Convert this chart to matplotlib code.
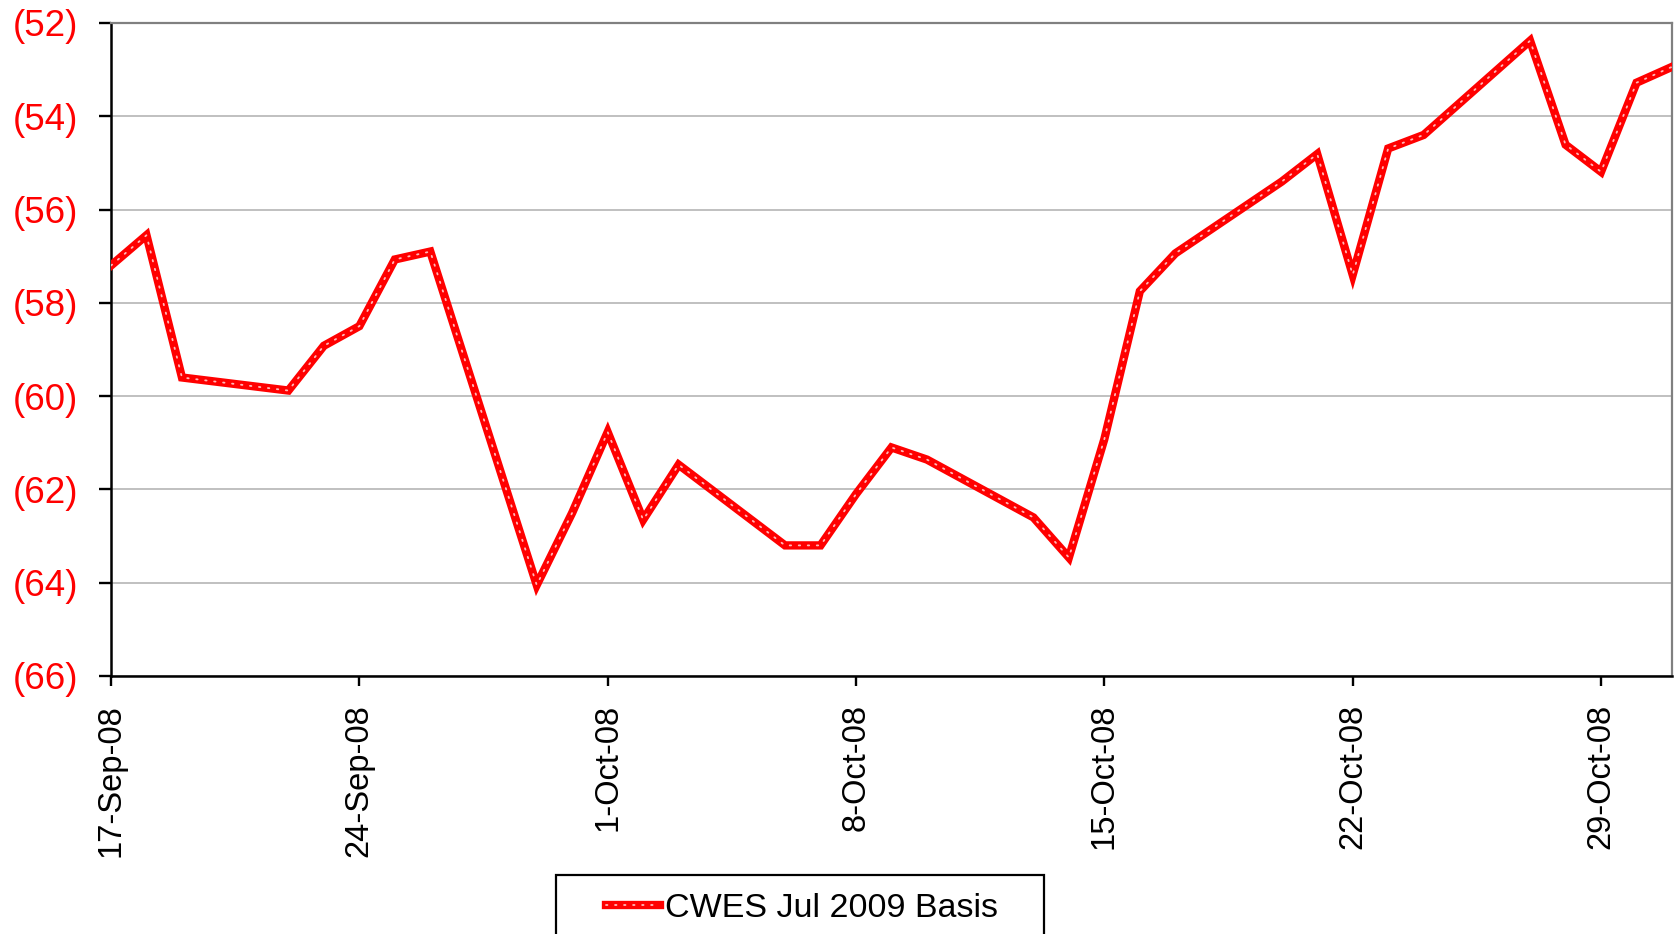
import matplotlib
matplotlib.use('Agg')
import matplotlib.pyplot as plt
import matplotlib.dates as mdates
from matplotlib.ticker import FuncFormatter
from matplotlib.patches import Rectangle
from matplotlib.legend_handler import HandlerTuple
import pandas as pd

plt.rcParams['font.family'] = ['Liberation Sans', 'DejaVu Sans']

# trading days and basis values (negative, shown in brackets)
dates = ['2008-09-17', '2008-09-18', '2008-09-19', '2008-09-22', '2008-09-23',
         '2008-09-24', '2008-09-25', '2008-09-26', '2008-09-29', '2008-09-30',
         '2008-10-01', '2008-10-02', '2008-10-03', '2008-10-06', '2008-10-07',
         '2008-10-08', '2008-10-09', '2008-10-10', '2008-10-13', '2008-10-14',
         '2008-10-15', '2008-10-16', '2008-10-17', '2008-10-20', '2008-10-21',
         '2008-10-22', '2008-10-23', '2008-10-24', '2008-10-27', '2008-10-28',
         '2008-10-29', '2008-10-30', '2008-10-31']
basis = [-57.2, -56.55, -59.6, -59.88, -58.92,
         -58.5, -57.07, -56.9, -64.05, -62.5,
         -60.77, -62.65, -61.47, -63.2, -63.2,
         -62.1, -61.1, -61.36, -62.6, -63.46,
         -60.92, -57.75, -56.94, -55.4, -54.81,
         -57.4, -54.69, -54.4, -52.38, -54.61,
         -55.19, -53.28, -52.94]
series_name = 'CWES Jul 2009 Basis'
y_ticks = [-66, -64, -62, -60, -58, -56, -54, -52]
x_ticks = ['2008-09-17', '2008-09-24', '2008-10-01', '2008-10-08',
           '2008-10-15', '2008-10-22', '2008-10-29']

W, H = 1675, 934
fig = plt.figure(figsize=(W / 100, H / 100), dpi=100)
ax = fig.add_axes([111 / W, 1 - 676 / H, (1672 - 111) / W, (676 - 23) / H])

x = pd.to_datetime(dates)
red_line, = ax.plot(x, basis, color='#ff0000', lw=6, solid_joinstyle='miter', zorder=3)
dot_line, = ax.plot(x, basis, color='#ffb8b8', lw=1.3, linestyle=(0, (0.8, 4.2)),
                    dash_capstyle='round', zorder=4)

ax.set_xlim(pd.Timestamp('2008-09-17'), pd.Timestamp('2008-10-31'))
ax.set_ylim(-66, -52)
ax.set_yticks(y_ticks)
ax.yaxis.set_major_formatter(FuncFormatter(lambda v, p: f'({abs(int(round(v)))})'))
ax.set_xticks(pd.to_datetime(x_ticks))
ax.xaxis.set_major_formatter(FuncFormatter(
    lambda v, p: (lambda d: f"{d.day}-{d.strftime('%b-%y')}")(mdates.num2date(v))))

ax.grid(axis='y', color='#c0c0c0', lw=1.4)
ax.set_axisbelow(True)
for s in ['left', 'bottom']:
    ax.spines[s].set_color('black')
    ax.spines[s].set_linewidth(1.8)
for s in ['top', 'right']:
    ax.spines[s].set_color('#808080')
    ax.spines[s].set_linewidth(1.6)

ax.tick_params(axis='y', direction='out', length=8.5, width=1.7, pad=15,
               labelsize=26.5, labelcolor='#ff0000')
ax.tick_params(axis='x', direction='out', length=7, width=1.7, pad=13,
               labelsize=23.5, labelrotation=90)

# legend box partly cut off at the bottom edge
fig.patches.append(Rectangle((556 / W, -0.05), (1044 - 556) / W, 0.05 + 1 - 875 / H,
                             transform=fig.transFigure, facecolor='white',
                             edgecolor='black', lw=1.6, zorder=1))
fig.legend([(red_line, dot_line)], [series_name], loc='upper left',
           bbox_to_anchor=(606 / W, 1 - 893 / H), frameon=False,
           borderpad=0, borderaxespad=0, handlelength=1.6, handletextpad=0.12,
           fontsize=24.5, handler_map={tuple: HandlerTuple(ndivide=1)})

fig.savefig('out.png', dpi=100)
